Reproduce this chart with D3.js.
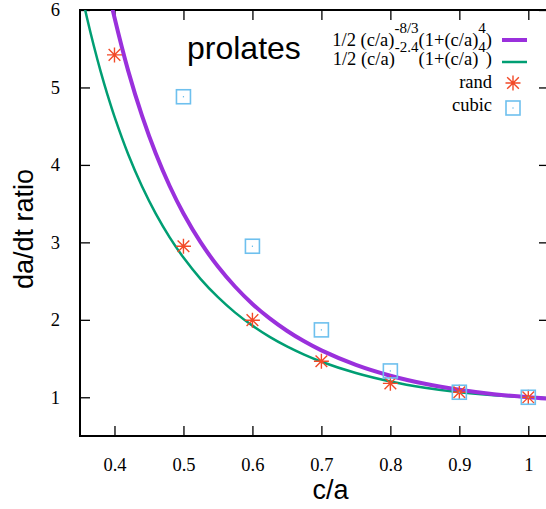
<!DOCTYPE html>
<html>
<head>
<meta charset="utf-8">
<script src="https://cdn.jsdelivr.net/npm/d3@7"></script>
<style>
  body { margin: 0; background: #fff; }
  svg { display: block; }
</style>
</head>
<body>
<svg id="chart"></svg>
<script>
var width = 546;
var height = 509;

// measured points
var caValues = [0.4, 0.5, 0.6, 0.7, 0.8, 0.9, 1.0];
var randValues = [5.42, 2.95, 1.995, 1.465, 1.18, 1.065, 1.0];
var cubicCa = [0.5, 0.6, 0.7, 0.8, 0.9, 1.0];
var cubicValues = [4.88, 2.95, 1.87, 1.34, 1.065, 1.0];

// curves, sampled
var curveCa = [0.35, 0.36, 0.37, 0.38, 0.39, 0.40, 0.42, 0.44, 0.46, 0.48, 0.50, 0.525, 0.55, 0.575,
    0.60, 0.625, 0.65, 0.675, 0.70, 0.75, 0.80, 0.85, 0.90, 0.95, 1.00, 1.03];
var fit83Values = [8.2, 7.7, 7.219, 6.738, 6.301, 5.903, 5.211, 4.632, 4.143, 3.728, 3.373, 2.999, 2.688, 2.427,
    2.205, 2.018, 1.859, 1.722, 1.605, 1.418, 1.278, 1.174, 1.097, 1.040, 1.000, 0.982];
var fit24Values = [6.305, 5.903, 5.538, 5.205, 4.902, 4.624, 4.135, 3.721, 3.368, 3.065, 2.804, 2.526, 2.292, 2.093,
    1.925, 1.780, 1.657, 1.551, 1.459, 1.313, 1.204, 1.124, 1.066, 1.026, 1.000, 0.990];

var xTicks = [0.4, 0.5, 0.6, 0.7, 0.8, 0.9, 1];
var yTicks = [1, 2, 3, 4, 5, 6];

var padLeft = 80, padTop = 10, padRight = 549, padBottom = 436;

var x = d3.scaleLinear().domain([0.35, 1.03]).range([padLeft, padRight]);
var y = d3.scaleLinear().domain([0.5, 6]).range([padBottom, padTop]);

var svg = d3.select("#chart")
    .attr("width", width)
    .attr("height", height);

svg.append("defs").append("clipPath")
    .attr("id", "plotClip")
    .append("rect")
    .attr("x", padLeft).attr("y", padTop)
    .attr("width", padRight - padLeft).attr("height", padBottom - padTop);

// axes, ticks pointing inward
function styleAxis(g) {
    g.select(".domain").remove();
    g.selectAll(".tick line").attr("stroke", "#000").attr("stroke-width", 1.3);
    g.selectAll(".tick text")
        .attr("font-family", "Liberation Serif, Times New Roman, serif")
        .attr("font-size", "18.5px")
        .attr("fill", "#000");
}

svg.append("g")
    .attr("transform", "translate(0," + padBottom + ")")
    .call(d3.axisBottom(x).tickValues(xTicks).tickFormat(d3.format("")).tickSizeInner(-10).tickSizeOuter(0).tickPadding(22))
    .call(styleAxis);

svg.append("g")
    .attr("transform", "translate(0," + padTop + ")")
    .call(d3.axisTop(x).tickValues(xTicks).tickFormat("").tickSizeInner(-10).tickSizeOuter(0))
    .call(styleAxis);

svg.append("g")
    .attr("transform", "translate(" + padLeft + ",0)")
    .call(d3.axisLeft(y).tickValues(yTicks).tickFormat(d3.format("d")).tickSizeInner(-10).tickSizeOuter(0).tickPadding(20))
    .call(styleAxis);

svg.append("g")
    .attr("transform", "translate(" + padRight + ",0)")
    .call(d3.axisRight(y).tickValues(yTicks).tickFormat("").tickSizeInner(-10).tickSizeOuter(0))
    .call(styleAxis);

svg.append("rect")
    .attr("x", padLeft).attr("y", padTop)
    .attr("width", padRight - padLeft).attr("height", padBottom - padTop)
    .attr("fill", "none")
    .attr("stroke", "#000")
    .attr("stroke-width", 2);

// fitted curves
var plot = svg.append("g").attr("clip-path", "url(#plotClip)");

var line = d3.line()
    .x(function (d) { return x(d[0]); })
    .y(function (d) { return y(d[1]); })
    .curve(d3.curveCatmullRom);

plot.append("path")
    .datum(d3.zip(curveCa, fit24Values))
    .attr("d", line)
    .attr("fill", "none")
    .attr("stroke", "#009e73")
    .attr("stroke-width", 2.5);

plot.append("path")
    .datum(d3.zip(curveCa, fit83Values))
    .attr("d", line)
    .attr("fill", "none")
    .attr("stroke", "#9a30dc")
    .attr("stroke-width", 4);

// markers
function drawStar(g, cx, cy) {
    var r = 7.5, d = r * 0.78;
    var path = "M" + (cx - r) + "," + cy + "H" + (cx + r) +
        "M" + cx + "," + (cy - r) + "V" + (cy + r) +
        "M" + (cx - d) + "," + (cy - d) + "L" + (cx + d) + "," + (cy + d) +
        "M" + (cx - d) + "," + (cy + d) + "L" + (cx + d) + "," + (cy - d);
    g.append("path")
        .attr("d", path)
        .attr("stroke", "#f24a28")
        .attr("stroke-width", 1.4)
        .attr("fill", "none");
}

function drawSquare(g, cx, cy) {
    g.append("rect")
        .attr("x", cx - 7).attr("y", cy - 7)
        .attr("width", 14).attr("height", 14)
        .attr("fill", "none")
        .attr("stroke", "#6ec0ee")
        .attr("stroke-width", 1.6);
    g.append("rect")
        .attr("x", cx - 0.6).attr("y", cy - 0.6)
        .attr("width", 1.2).attr("height", 1.2)
        .attr("fill", "#56b4e9");
}

var randG = plot.append("g");
caValues.forEach(function (c, i) { drawStar(randG, x(c), y(randValues[i])); });

var cubicG = plot.append("g");
cubicCa.forEach(function (c, i) { drawSquare(cubicG, x(c), y(cubicValues[i])); });

// axis titles
svg.append("text")
    .attr("x", x(0.7) + 9)
    .attr("y", 499)
    .attr("text-anchor", "middle")
    .attr("font-family", "Liberation Sans, Arial, sans-serif")
    .attr("font-size", "27px")
    .text("c/a");

svg.append("text")
    .attr("transform", "translate(33," + 229 + ") rotate(-90)")
    .attr("text-anchor", "middle")
    .attr("font-family", "Liberation Sans, Arial, sans-serif")
    .attr("font-size", "27px")
    .text("da/dt ratio");

svg.append("text")
    .attr("x", 187)
    .attr("y", 59)
    .attr("font-family", "Liberation Sans, Arial, sans-serif")
    .attr("font-size", "32px")
    .text("prolates");

// legend
var legendX = 492;
var legendFont = "Liberation Serif, Times New Roman, serif";

function legendFormula(yBase, exponent) {
    var t = svg.append("text")
        .attr("x", legendX)
        .attr("y", yBase)
        .attr("text-anchor", "end")
        .attr("font-family", legendFont)
        .attr("font-size", "18.5px");
    t.append("tspan").text("1/2 (c/a)");
    t.append("tspan").attr("font-size", "15px").attr("dy", -13).text(exponent);
    t.append("tspan").attr("dy", 13).text("(1+(c/a)");
    t.append("tspan").attr("font-size", "15px").attr("dy", -13).text("4");
    t.append("tspan").attr("dy", 13).text(")");
}

legendFormula(46, "-8/3");
legendFormula(65, "-2.4");

svg.append("line")
    .attr("x1", 502).attr("x2", 527).attr("y1", 40).attr("y2", 40)
    .attr("stroke", "#9a30dc").attr("stroke-width", 4);
svg.append("line")
    .attr("x1", 502).attr("x2", 527).attr("y1", 62).attr("y2", 62)
    .attr("stroke", "#009e73").attr("stroke-width", 2.5);

svg.append("text")
    .attr("x", legendX).attr("y", 88)
    .attr("text-anchor", "end")
    .attr("font-family", legendFont)
    .attr("font-size", "18.5px")
    .text("rand");
drawStar(svg, 513, 83);

svg.append("text")
    .attr("x", legendX).attr("y", 111)
    .attr("text-anchor", "end")
    .attr("font-family", legendFont)
    .attr("font-size", "18.5px")
    .text("cubic");
drawSquare(svg, 513, 108);
</script>
</body>
</html>
